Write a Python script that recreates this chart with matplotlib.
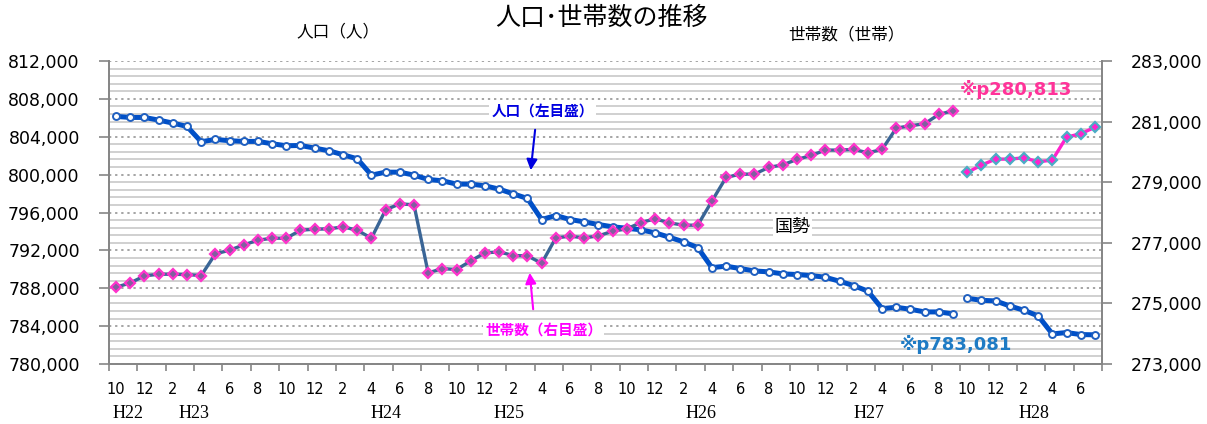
import matplotlib.pyplot as plt
import numpy as np
from matplotlib.ticker import FuncFormatter

plt.rcParams['font.family'] = ['DejaVu Sans', 'Noto Sans CJK JP']
JP = ['Noto Sans CJK JP', 'DejaVu Sans']

# monthly data, H22.10 - H28.7 (index 0..69)
pop_old = [806150, 806040, 806040, 805760, 805445, 805090, 803470, 803720, 803580, 803510,
           803510, 803260, 803050, 803080, 802800, 802520, 802100, 801670, 799950, 800260,
           800260, 799950, 799490, 799350, 799000, 799000, 798820, 798470, 797970, 797480,
           795260, 795680, 795260, 795010, 794730, 794490, 794340, 794170, 793850, 793390,
           792900, 792300, 790180, 790330, 790080, 789830, 789730, 789520, 789450, 789340,
           789160, 788740, 788280, 787690, 785850, 785990, 785780, 785500, 785500, 785290]
pop_new = [786940, 786730, 786660, 786130, 785670, 785080, 783180, 783320, 783110, 783081]

hh_old = [275533, 275677, 275908, 275963, 275963, 275952, 275919, 276635, 276756, 276932,
          277086, 277152, 277152, 277416, 277449, 277460, 277526, 277416, 277152, 278088,
          278287, 278254, 276007, 276150, 276117, 276403, 276668, 276701, 276580, 276569,
          276326, 277163, 277218, 277163, 277229, 277383, 277460, 277670, 277791, 277658,
          277582, 277582, 278375, 279157, 279267, 279267, 279487, 279575, 279751, 279883,
          280060, 280060, 280082, 279971, 280082, 280786, 280864, 280930, 281238, 281359]
hh_new = [279322, 279564, 279762, 279762, 279806, 279674, 279729, 280489, 280599, 280813]

month_labels = ['10', '12', '2', '4', '6', '8'] * 5 + ['10', '12', '2', '4', '6']
era_labels = ['H22', 'H23', 'H24', 'H25', 'H26', 'H27', 'H28']
era_pos = [0.84, 5.5, 19.05, 27.7, 41.2, 53.1, 64.7]

x_old = np.arange(len(pop_old))
x_new = np.arange(len(pop_old), len(pop_old) + len(pop_new))
n = len(pop_old) + len(pop_new)

fig = plt.figure(figsize=(12.07, 4.24), dpi=100)
ax = fig.add_axes([0.0903, 0.1415, 0.8227, 0.7146])
ax2 = ax.twinx()

gray = '#868686'

# population (left)
ax.plot(x_old, pop_old, color='#0050C8', lw=3.6, marker='o', ms=5,
        mfc='white', mec='#1F5FC0', mew=1.4, zorder=3)
ax.plot(x_new, pop_new, color='#0050C8', lw=3.6, marker='o', ms=5,
        mfc='white', mec='#1F5FC0', mew=1.4, zorder=3)
ax.set_ylim(780000, 812000)
ax.set_yticks(np.arange(780000, 812001, 4000))
ax.set_yticks(np.arange(780000, 812001, 800), minor=True)
ax.yaxis.set_major_formatter(FuncFormatter(lambda v, p: f'{v:,.0f}'))
ax.grid(axis='y', which='major', color='#8c8c8c', linestyle=(0, (1.5, 2.5)), lw=1.1, zorder=0)
ax.grid(axis='y', which='minor', color='#c4c4c4', linestyle='-', lw=1.1, zorder=0)

# households (right)
ax2.plot(x_old, hh_old, color='#3A6596', lw=2.4, marker='D', ms=4.6,
         mfc='#80609E', mec='#FF33CC', mew=1.6, zorder=3)
ax2.plot(x_new, hh_new, color='#FF22CC', lw=2.4, marker='D', ms=4.6,
         mfc='#FF22CC', mec='#4BACC6', mew=1.6, zorder=3)
ax2.set_ylim(273000, 283000)
ax2.set_yticks(np.arange(273000, 283001, 2000))
ax2.yaxis.set_major_formatter(FuncFormatter(lambda v, p: f'{v:,.0f}'))

ax.set_xlim(-0.5, n - 0.5)
ax.set_xticks(np.arange(0, n, 2))
ax.set_xticklabels(month_labels)
ax.set_xticks(np.arange(-0.5, n, 2), minor=True)
ax.tick_params(axis='x', which='major', length=0, pad=13, labelsize=10.5)
ax.tick_params(axis='x', which='minor', length=5, color=gray, width=1.2)
ax.tick_params(axis='y', which='major', length=7, color=gray, width=1.2, pad=14, labelsize=12.5)
ax.tick_params(axis='y', which='minor', length=0)
ax2.tick_params(axis='y', length=7, color=gray, width=1.2, pad=14, labelsize=12.5)

for a in (ax, ax2):
    a.spines['top'].set_visible(False)
    for s in ('left', 'right', 'bottom'):
        a.spines[s].set_color(gray)
        a.spines[s].set_linewidth(1.3)

for lab, p in zip(era_labels, era_pos):
    ax.text(p, -0.162, lab, transform=ax.get_xaxis_transform(), ha='center', va='center',
            fontsize=13, family='Liberation Serif')

# titles
fig.text(0.498, 0.957, '人口･世帯数の推移', ha='center', va='center', fontsize=18, family=JP)
fig.text(338 / 1207, 1 - 32 / 424, '人口（人）', ha='center', va='center', fontsize=12, family=JP)
fig.text(846 / 1207, 1 - 35 / 424, '世帯数（世帯）', ha='center', va='center', fontsize=12, family=JP)

# annotations
ax2.annotate('', xy=(29.21, 800172), xytext=(29.56, 805030), xycoords=ax.transData,
             textcoords=ax.transData,
             arrowprops=dict(arrowstyle='-|>', color='#0000E0', lw=1.5, mutation_scale=16))
ax2.annotate('', xy=(29.14, 789927), xytext=(29.42, 785492), xycoords=ax.transData,
             textcoords=ax.transData,
             arrowprops=dict(arrowstyle='-|>', color='#FF00FF', lw=1.5, mutation_scale=16))
ax2.text(30.06, 806720, '人口（左目盛）', transform=ax.transData, ha='center', va='center',
         fontsize=10.5, fontweight='bold', color='#0000E0', family=JP,
         bbox=dict(fc='white', ec='none', pad=1.5))
ax2.text(30.13, 783590, '世帯数（右目盛）', transform=ax.transData, ha='center', va='center',
         fontsize=10.5, fontweight='bold', color='#FF00FF', family=JP,
         bbox=dict(fc='white', ec='none', pad=1.5))
ax2.text(47.7, 794470, '国勢', transform=ax.transData, ha='center', va='center',
         fontsize=13, color='black', family=JP, bbox=dict(fc='white', ec='none', pad=1))
ax2.text(63.4, 809040, '※p280,813', transform=ax.transData, ha='center', va='center',
         fontsize=13, fontweight='bold', color='#FF3399', family=['DejaVu Sans', 'Noto Sans CJK JP'])
ax2.text(59.2, 782110, '※p783,081', transform=ax.transData, ha='center', va='center',
         fontsize=13, fontweight='bold', color='#1F7BC4', family=['DejaVu Sans', 'Noto Sans CJK JP'])

fig.savefig('out.png', dpi=100)
